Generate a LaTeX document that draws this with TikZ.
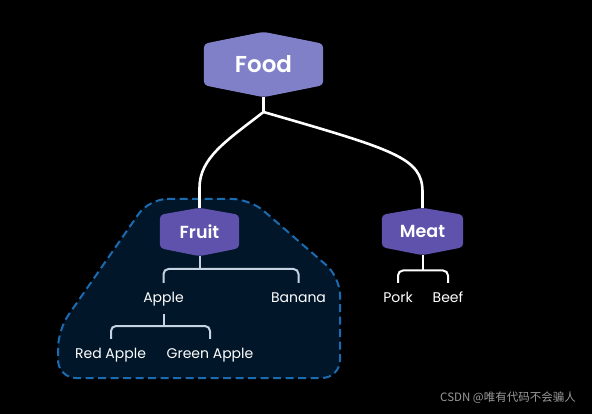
\documentclass[tikz,border=0pt]{standalone}
\usepackage{fontspec}
\setmainfont{Poppins}
\newfontfamily\semib{Poppins}[UprightFont=* SemiBold]
\newfontfamily\cjk{Noto Sans CJK SC}
\pgfdeclarelayer{bgr}
\pgfdeclarelayer{bgh}
\pgfsetlayers{bgr,bgh,main}
\definecolor{foodfill}{HTML}{8080C8}
\definecolor{catfill}{HTML}{5F52AC}
\definecolor{regionfill}{HTML}{011629}
\definecolor{regionline}{HTML}{1A6BB0}
\definecolor{brline}{HTML}{C5D3E3}
\definecolor{wmgray}{HTML}{9A9A9A}
\tikzset{
  hexnode/.style={inner sep=0pt, text=white},
  leaf/.style={anchor=base, text=white, font=\fontsize{14}{16}\selectfont, inner xsep=1pt, inner ysep=9pt, text height=10pt, text depth=3pt},
  conn/.style={draw=white, line width=2.6pt},
  brw/.style={draw=white, line width=2pt, rounded corners=5pt},
  brf/.style={draw=brline, line width=2pt, rounded corners=5pt},
}
\begin{document}
\begin{tikzpicture}[x=1pt,y=-1pt]
\useasboundingbox (0,0) rectangle (592,414);
% region
\begin{pgfonlayer}{bgr}
\fill[black] (0,0) rectangle (592,414);
\draw[regionline, fill=regionfill, line width=2pt, dash pattern=on 8pt off 4.5pt, rounded corners=18pt]
  (149,199) -- (250,199) -- (340,277) -- (340,378) -- (58,378) -- (58,330) -- cycle;
\end{pgfonlayer}
% nodes
\node[hexnode, minimum width=119pt, minimum height=65pt, font=\semib\fontsize{23}{26}\selectfont] (food) at (263.5,64.5) {Food};
\node[hexnode, minimum width=79pt, minimum height=48pt, font=\semib\fontsize{17.5}{20}\selectfont] (fruit) at (199.5,232) {Fruit};
\node[hexnode, minimum width=81pt, minimum height=47pt, font=\semib\fontsize{17.5}{20}\selectfont] (meat) at (422.5,231.5) {Meat};
\begin{pgfonlayer}{bgh}
\fill[foodfill, rounded corners=4pt] (food.north) -- ([yshift=-12pt]food.north east) -- ([yshift=12pt]food.south east) -- (food.south) -- ([yshift=12pt]food.south west) -- ([yshift=-12pt]food.north west) -- cycle;
\fill[catfill, rounded corners=4pt] (fruit.north) -- ([yshift=-7pt]fruit.north east) -- ([yshift=8pt]fruit.south east) -- (fruit.south) -- ([yshift=8pt]fruit.south west) -- ([yshift=-7pt]fruit.north west) -- cycle;
\fill[catfill, rounded corners=4pt] (meat.north) -- ([yshift=-7pt]meat.north east) -- ([yshift=8pt]meat.south east) -- (meat.south) -- ([yshift=8pt]meat.south west) -- ([yshift=-7pt]meat.north west) -- cycle;
\end{pgfonlayer}
% leaves
\node[leaf] (apple) at (163.5,302) {Apple};
\node[leaf] (banana) at (298.5,302) {Banana};
\node[leaf] (redapple) at (110.5,358) {Red Apple};
\node[leaf] (greenapple) at (210,358) {Green Apple};
\node[leaf] (pork) at (398,302) {Pork};
\node[leaf] (beef) at (448,302) {Beef};
% connectors
\coordinate (split) at (263.5,112);
\draw[conn] (food.south) -- (split);
\draw[conn] (split) .. controls (226,141) and (199.5,158) .. (199.5,188) -- (fruit.north);
\draw[conn] (split) .. controls (395,150) and (422.5,158) .. (422.5,192) -- (meat.north);
\coordinate (fbar) at (199.5,269);
\draw[brf] (fruit.south) -- (fbar);
\draw[brf] (apple.north) |- (fbar) -| (banana.north);
\coordinate (abar) at (163.5,326);
\draw[brf] (apple.south) -- (abar);
\draw[brf] ([xshift=0.5pt]redapple.north) |- (abar) -| (greenapple.north);
\coordinate (mbar) at (422.5,270.5);
\draw[brw] (meat.south) -- (mbar);
\draw[brw] (pork.north) |- (mbar) -| (beef.north);
% watermark
\node[anchor=base east, text=wmgray, inner sep=0pt, font=\cjk\fontsize{11.5}{13}\selectfont] (wm) at (576,401) {CSDN @唯有代码不会骗人};
\end{tikzpicture}
\end{document}
